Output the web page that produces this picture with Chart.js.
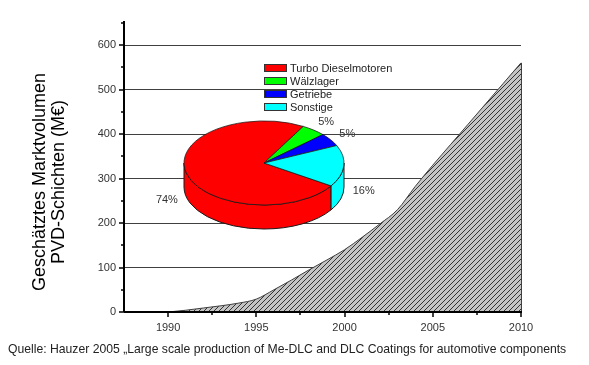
<!DOCTYPE html>
<html><head><meta charset="utf-8">
<script src="https://cdn.jsdelivr.net/npm/chart.js@4.4.0/dist/chart.umd.min.js"></script>
<style>
html,body{margin:0;padding:0;background:#fff;}
#wrap{position:relative;width:589px;height:365px;overflow:hidden;}
#wrap canvas{position:absolute;left:0;top:0;}
</style></head><body>
<div id="wrap"><canvas id="main" width="589" height="365"></canvas><canvas id="pie" width="589" height="365"></canvas></div>
<script>
// ---- data ----
const years = [1990,1991,1992,1993,1994,1995,1996,1997,1998,1999,2000,2001,2002,2003,2004,2005,2006,2007,2008,2009,2010];
const marketValues = [0,4,9,14,20,29,50,72,95,117,140,168,198,230,282,330,376,422,468,514,560];
const yTickValues = [0,50,100,150,200,250,300,350,400,450,500,550,600,650];
const yTickLabels = ['0','100','200','300','400','500','600'];
const xMajorTicks = [1990,1995,2000,2005,2010];
const xMinorTicks = [1992.5,1997.5,2002.5,2007.5];
const xTickLabels = ['1990','1995','2000','2005','2010'];
const pieLabels = ['Turbo Dieselmotoren','Wälzlager','Getriebe','Sonstige'];
const pieShares = [74,5,5,16];
const pieShareTexts = ['74%','5%','5%','16%'];
const pieColors = ['#ff0000','#00ff00','#0000ff','#00ffff'];
const yTitleLines = ['Geschätztes Marktvolumen','PVD-Schichten (M€)'];
const captionText = 'Quelle: Hauzer 2005 \u201eLarge scale production of Me-DLC and DLC Coatings for automotive components';

const FONT = "'Liberation Sans', Arial, sans-serif";

// hatch pattern
function makeHatch(){
  const s = 5;
  const c = document.createElement('canvas'); c.width = s; c.height = s;
  const g = c.getContext('2d');
  g.fillStyle = '#c4c4c4'; g.fillRect(0,0,s,s);
  g.strokeStyle = '#333'; g.lineWidth = 1;
  g.beginPath();
  g.moveTo(-1, s+1); g.lineTo(s+1, -1);
  g.moveTo(-1, 1); g.lineTo(1, -1);
  g.moveTo(s-1, s+1); g.lineTo(s+1, s-1);
  g.stroke();
  return g.createPattern(c, 'repeat');
}

const decor = {
  id: 'decor',
  afterDatasetsDraw(chart){
    const ctx = chart.ctx, xs = chart.scales.x, ys = chart.scales.y, a = chart.chartArea;
    ctx.save();
    const lastX = xs.getPixelForValue(years[years.length-1]);
    ctx.strokeStyle = '#404040'; ctx.lineWidth = 1;
    ctx.beginPath();
    ctx.moveTo(Math.round(lastX)+0.5, ys.getPixelForValue(marketValues[marketValues.length-1]));
    ctx.lineTo(Math.round(lastX)+0.5, ys.getPixelForValue(0));
    ctx.stroke();
    // axes
    ctx.strokeStyle = '#000'; ctx.lineWidth = 2;
    ctx.beginPath();
    ctx.moveTo(a.left, a.top); ctx.lineTo(a.left, a.bottom);
    ctx.moveTo(a.left, a.bottom); ctx.lineTo(xs.getPixelForValue(2010)+1, a.bottom);
    ctx.stroke();
    // tick marks
    ctx.lineWidth = 1.5;
    ctx.beginPath();
    yTickValues.forEach(v => {
      const y = Math.round(ys.getPixelForValue(v));
      const len = yTickLabels.includes(String(v)) ? 5 : 3;
      ctx.moveTo(a.left - len, y); ctx.lineTo(a.left, y);
    });
    xMajorTicks.forEach(v => { const x = Math.round(xs.getPixelForValue(v)); ctx.moveTo(x, a.bottom); ctx.lineTo(x, a.bottom+5); });
    xMinorTicks.forEach(v => { const x = Math.round(xs.getPixelForValue(v)); ctx.moveTo(x, a.bottom); ctx.lineTo(x, a.bottom+3); });
    ctx.stroke();
    ctx.restore();
  },
  afterDraw(chart){
    const ctx = chart.ctx;
    ctx.save();
    ctx.fillStyle = '#000';
    ctx.font = '18px ' + FONT;
    ctx.textAlign = 'center'; ctx.textBaseline = 'middle';
    [40, 59].forEach((x, i) => {
      ctx.save(); ctx.translate(x, 182); ctx.rotate(-Math.PI/2);
      ctx.fillText(yTitleLines[i], 0, 0); ctx.restore();
    });
    ctx.font = '12.2px ' + FONT; ctx.fillStyle = '#222';
    ctx.textAlign = 'left';
    ctx.fillText(captionText, 8, 350);
    ctx.restore();
  }
};

new Chart(document.getElementById('main'), {
  type: 'line',
  data: { datasets: [{
    data: years.map((yr, i) => ({x: yr, y: marketValues[i]})),
    fill: 'origin', backgroundColor: makeHatch(), borderColor: '#404040', borderWidth: 1,
    pointRadius: 0, cubicInterpolationMode: 'monotone'
  }]},
  options: {
    responsive: false, animation: false, devicePixelRatio: 1,
    layout: { padding: { left: 0, top: 21, right: 68, bottom: 0 } },
    plugins: { legend: { display: false }, tooltip: { enabled: false } },
    scales: {
      x: {
        type: 'linear', min: 1987.5, max: 2010,
        afterBuildTicks: s => { s.ticks = xMajorTicks.concat(xMinorTicks).sort((p,q)=>p-q).map(v => ({value: v})); },
        afterFit: s => { s.height = 53; },
        grid: { display: false, drawTicks: false },
        border: { display: false },
        ticks: { autoSkip: false, maxRotation: 0, padding: 9, color: '#333', font: { family: FONT, size: 11 },
          callback: v => xTickLabels.includes(String(v)) ? String(v) : '' }
      },
      y: {
        min: 0, max: 654,
        afterBuildTicks: s => { s.ticks = yTickValues.map(v => ({value: v})); },
        afterFit: s => { s.width = 124; },
        grid: { drawTicks: false, lineWidth: 1,
          color: c => (c.tick && c.tick.value > 0 && yTickLabels.includes(String(c.tick.value))) ? '#404040' : 'rgba(0,0,0,0)' },
        border: { display: false },
        ticks: { autoSkip: false, padding: 8, color: '#333', font: { family: FONT, size: 11 },
          callback: v => yTickLabels.includes(String(v)) ? String(v) : '' }
      }
    }
  },
  plugins: [decor]
});

// ---- 3D pie ----
const K = 0.525, DEPTH = 24;
const pie3d = {
  id: 'pie3d',
  beforeDatasetsDraw(chart){
    const ctx = chart.ctx, arcs = chart.getDatasetMeta(0).data;
    const cx = arcs[0].x, cy = arcs[0].y, R = arcs[0].outerRadius;
    ctx.save();
    ctx.strokeStyle = '#1a1a1a'; ctx.lineWidth = 1;
    arcs.forEach((arc, i) => {
      [-2*Math.PI, 0, 2*Math.PI].forEach(off => {
        const a = Math.max(arc.startAngle + off, 0), b = Math.min(arc.endAngle + off, Math.PI);
        if (b > a) {
          ctx.beginPath();
          ctx.ellipse(cx, cy, R, K*R, 0, a, b);
          ctx.ellipse(cx, cy + DEPTH, R, K*R, 0, b, a, true);
          ctx.closePath();
          ctx.fillStyle = pieColors[i]; ctx.fill(); ctx.stroke();
        }
      });
    });
    ctx.restore();
    ctx.save();
    ctx.translate(cx, cy); ctx.scale(1, K); ctx.translate(-cx, -cy);
  },
  afterDatasetsDraw(chart){
    const ctx = chart.ctx; ctx.restore();
    const arcs = chart.getDatasetMeta(0).data;
    const cx = arcs[0].x, cy = arcs[0].y, R = arcs[0].outerRadius;
    ctx.save();
    ctx.font = '11px ' + FONT; ctx.fillStyle = '#333';
    ctx.textAlign = 'center'; ctx.textBaseline = 'middle';
    arcs.forEach((arc, i) => {
      const m = (arc.startAngle + arc.endAngle) / 2;
      const r = R * 1.25;
      let x = cx + r * Math.cos(m), y = cy + K * r * Math.sin(m);
      if (Math.sin(m) > 0) y += DEPTH;
      ctx.fillText(pieShareTexts[i], x, y);
    });
    ctx.textAlign = 'left';
    pieLabels.forEach((lab, i) => {
      const y = 64 + 13 * i;
      ctx.fillStyle = pieColors[i]; ctx.fillRect(264, y, 23, 8);
      ctx.strokeStyle = '#333'; ctx.lineWidth = 1; ctx.strokeRect(264.5, y + 0.5, 22, 7);
      ctx.fillStyle = '#222'; ctx.fillText(lab, 290, y + 4.5);
    });
    ctx.restore();
  }
};

new Chart(document.getElementById('pie'), {
  type: 'pie',
  data: { labels: pieLabels, datasets: [{ data: pieShares, backgroundColor: pieColors, borderColor: '#1a1a1a', borderWidth: 1, clip: false }] },
  options: {
    responsive: false, animation: false, devicePixelRatio: 1, rotation: 123,
    layout: { padding: { left: 183.5, right: 244.5, top: 82.5, bottom: 121.5 } },
    plugins: { legend: { display: false }, tooltip: { enabled: false } }
  },
  plugins: [pie3d]
});
</script>
</body></html>
